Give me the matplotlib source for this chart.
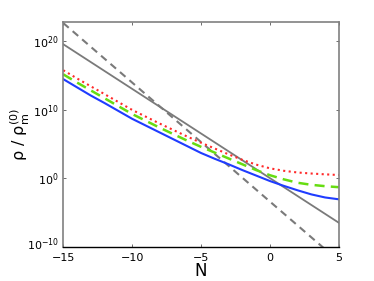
import numpy as np
import matplotlib
matplotlib.use('Agg')
from matplotlib import pyplot as plt
from matplotlib.transforms import ScaledTranslation

# e-folds N and log10 of the densities
N = [-15, -14, -13, -12, -11, -10, -9, -8, -7, -6, -5,
     -4, -3, -2, -1, 0, 1, 2, 3, 4, 5]
log_blue = [14.5, 13.3, 12.1, 11.0, 9.85, 8.7, 7.7, 6.7, 5.7, 4.7, 3.7,
            2.85, 2.05, 1.2, 0.4, -0.4, -1.1, -1.75, -2.35, -2.8, -3.07]
log_green = [15.2, 14.0, 12.85, 11.7, 10.55, 9.4, 8.4, 7.4, 6.45, 5.5, 4.6,
             3.75, 2.9, 2.05, 1.2, 0.45, -0.15, -0.65, -0.95, -1.15, -1.3]
log_red = [15.8, 14.6, 13.45, 12.3, 11.15, 10.0, 9.0, 8.0, 7.05, 6.1, 5.2,
           4.35, 3.5, 2.7, 2.0, 1.46, 1.1, 0.85, 0.7, 0.58, 0.48]

# background matter / radiation lines
N_bg = [-15, 5]
log_matter = [19.6, -6.5]
log_rad = [22.7, -12.1]

xticks = [-15, -10, -5, 0, 5]
yticks = [1e-10, 1e0, 1e10, 1e20]

fig = plt.figure(figsize=(3.74, 2.81), dpi=100)
ax = fig.add_axes([0.169, 0.122, 0.737, 0.801])

gray = '#7a7a7a'
ax.semilogy(N_bg, 10.0 ** np.array(log_rad), '--', color=gray, lw=1.5, dashes=(3.5, 2.5))
ax.semilogy(N_bg, 10.0 ** np.array(log_matter), '-', color=gray, lw=1.3)
ax.semilogy(N, 10.0 ** np.array(log_red), ':', color='#ff2a2a', lw=1.5)
ax.semilogy(N, 10.0 ** np.array(log_green), '--', color='#66dd11', lw=1.8, dashes=(4, 2.5))
ax.semilogy(N, 10.0 ** np.array(log_blue), '-', color='#1f3cff', lw=1.5)

ax.set_xlim(-15, 5)
ax.set_ylim(1e-10, 10 ** 22.9)
ax.set_xticks(xticks)
ax.set_xticklabels(['\u221215', '\u221210', '\u22125', '0', '5'])
ax.set_yticks(yticks)
ax.set_yticklabels(['10$^{\u221210}$', '10$^{0}$', '10$^{10}$', '10$^{20}$'])
ax.yaxis.set_minor_locator(matplotlib.ticker.NullLocator())
ax.tick_params(direction='in', length=2.5, width=0.6, labelsize=8,
               top=True, right=True, colors='#555555', labelcolor='black', pad=3)
ax.tick_params(axis='x', pad=4.5)

# nudge the lowest y label up a little so it clears the -15
lab = ax.get_yticklabels()[0]
lab.set_transform(lab.get_transform() + ScaledTranslation(0, 2.5 / 72, fig.dpi_scale_trans))

for side in ['left', 'right', 'top']:
    ax.spines[side].set_color('#808080')
    ax.spines[side].set_linewidth(1.2)
ax.spines['bottom'].set_color('black')
ax.spines['bottom'].set_linewidth(1.0)

ax.set_xlabel('N', fontsize=12, labelpad=-1)
ax.set_ylabel('\u03c1 / \u03c1$_\\mathregular{m}^\\mathregular{(0)}$', fontsize=11.5)
ax.yaxis.set_label_coords(-0.115, 0.5)

fig.savefig('out.png', dpi=100)
